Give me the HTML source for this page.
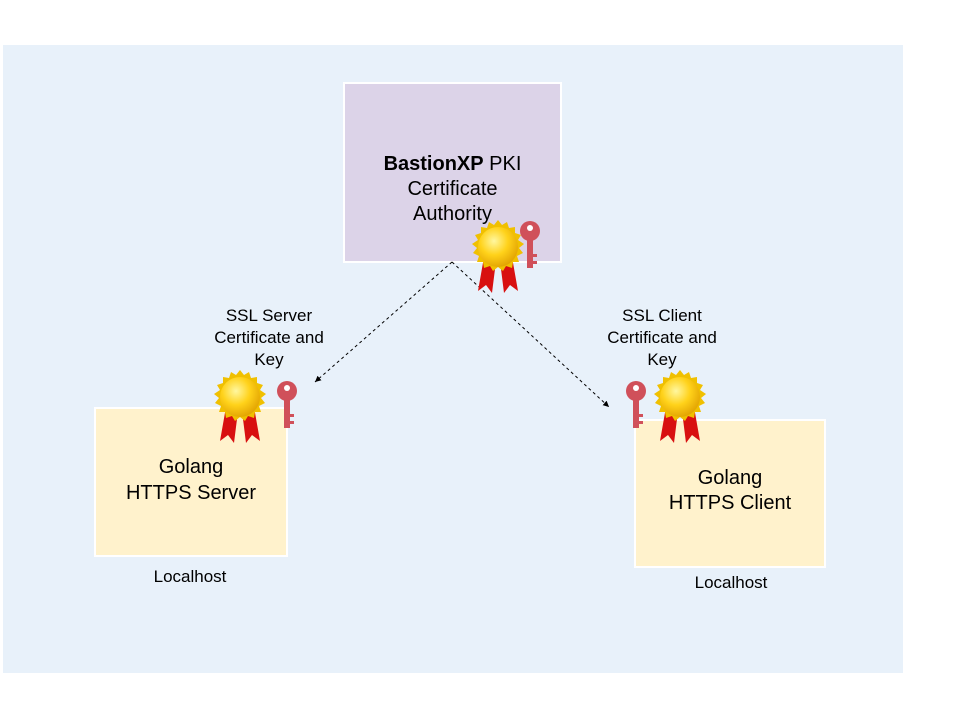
<!DOCTYPE html>
<html><head><meta charset="utf-8"><style>
body{margin:0;width:960px;height:720px;background:#fff;position:relative;overflow:hidden;font-family:"Liberation Sans",sans-serif;}
.bg{position:absolute;left:3px;top:45px;width:900px;height:628px;background:#e8f1fa;}
.box{position:absolute;box-sizing:border-box;border:2px solid #fff;display:flex;align-items:center;justify-content:center;text-align:center;color:#000;}
.t{position:absolute;font-size:17px;text-align:center;line-height:22px;}
svg{position:absolute;left:0;top:0;}
</style></head><body>
<div class="bg"></div>
<div class="box" style="left:343px;top:82px;width:219px;height:181px;background:#dcd3e8;font-size:20px;line-height:25px;"><div style="margin-top:34px"><b>BastionXP</b> PKI<br>Certificate<br>Authority</div></div>
<div class="box" style="left:94px;top:407px;width:194px;height:150px;background:#fff2cc;font-size:20px;line-height:26px;"><div style="margin-top:-4px">Golang<br>HTTPS Server</div></div>
<div class="box" style="left:634px;top:419px;width:192px;height:149px;background:#fff2cc;font-size:20px;line-height:25px;"><div style="margin-top:-6px">Golang<br>HTTPS Client</div></div>
<div class="t" style="left:189px;top:305px;width:160px;">SSL Server<br>Certificate and<br>Key</div>
<div class="t" style="left:582px;top:305px;width:160px;">SSL Client<br>Certificate and<br>Key</div>
<div class="t" style="left:130px;top:566px;width:120px;">Localhost</div>
<div class="t" style="left:671px;top:572px;width:120px;">Localhost</div>
<svg width="960" height="720">
<defs>
<radialGradient id="g" cx="0.4" cy="0.35" r="0.7"><stop offset="0" stop-color="#fff7a0"/><stop offset="0.5" stop-color="#ffd21a"/><stop offset="1" stop-color="#e0a000"/></radialGradient>
<marker id="a" markerWidth="8" markerHeight="8" refX="6" refY="3" orient="auto"><path d="M0,0 L6,3 L0,6 z" fill="#000"/></marker>
<g id="medal">
<path d="M-14,10 L-20,44 L-12,38 L-6,46 L-2,14 z" fill="#d81010"/>
<path d="M14,10 L20,44 L12,38 L6,46 L2,14 z" fill="#d81010"/>
<polygon fill="#f0c000" points="0,-27 4,-22 9,-25 11,-19 17,-20 17,-14 23,-12 20,-7 26,-3 21,1 25,6 19,9 21,15 15,15 14,21 8,19 5,24 0,20 -5,24 -8,19 -14,21 -15,15 -21,15 -19,9 -25,6 -21,1 -26,-3 -20,-7 -23,-12 -17,-14 -17,-20 -11,-19 -9,-25 -4,-22"/>
<circle r="20" fill="url(#g)"/>
</g>
<g id="key">
<circle cx="0" cy="-9" r="10" fill="#d0505a"/>
<circle cx="0" cy="-12" r="3" fill="#fff"/>
<rect x="-3" y="0" width="6" height="28" fill="#d0505a"/>
<rect x="3" y="14" width="4" height="3" fill="#d0505a"/><rect x="3" y="21" width="4" height="3" fill="#d0505a"/>
</g>
</defs>
<line x1="452" y1="262" x2="315" y2="382" stroke="#000" stroke-dasharray="3,3" marker-end="url(#a)"/>
<line x1="452" y1="262" x2="609" y2="407" stroke="#000" stroke-dasharray="3,3" marker-end="url(#a)"/>
<use href="#key" x="530" y="240"/>
<use href="#medal" x="498" y="247"/>
<use href="#key" x="287" y="400"/>
<use href="#medal" x="240" y="397"/>
<use href="#key" x="636" y="400"/>
<use href="#medal" x="680" y="397"/>
</svg>
</body></html>
